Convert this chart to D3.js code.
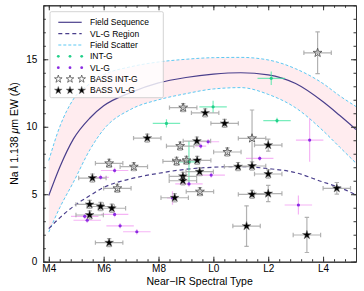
<!DOCTYPE html>
<html>
<head>
<meta charset="utf-8">
<script src="https://cdn.jsdelivr.net/npm/d3@7"></script>
<style>
  body { margin: 0; background: #fff; }
  text { font-family: "Liberation Sans", Arial, sans-serif; }
</style>
</head>
<body>
<div id="chart"></div>
<script>
const WIDTH = 364;
const HEIGHT = 291;
const LEFT = 43.3;
const RIGHT = 356;
const TOP = 5.3;
const BOTTOM = 261.7;

// spectral type as number: M4 = 4, L0 = 10
const xTickValues = [4, 6, 8, 10, 12, 14];
const xTickLabels = ['M4', 'M6', 'M8', 'L0', 'L2', 'L4'];
const yTickValues = [0, 5, 10, 15];

const curveSpT = [4.0, 4.4, 4.9, 5.5, 6.0, 7.0, 8.0, 9.0, 10.0, 11.0, 12.0, 13.0, 14.0, 14.6, 15.2];
const fieldSeq = [4.9, 7.0, 9.1, 10.65, 11.55, 12.55, 13.25, 13.65, 13.9, 14.0, 13.85, 13.2, 11.85, 10.85, 9.8];
const scatterUp = [7.5, 10.0, 12.05, 13.2, 13.85, 14.45, 14.8, 15.0, 15.12, 15.14, 14.95, 14.3, 13.2, 12.3, 11.5];
const scatterLow = [2.2, 4.0, 5.9, 8.3, 9.8, 11.3, 12.0, 12.45, 12.8, 12.9, 12.4, 11.4, 9.7, 8.5, 7.3];
const vlgRegion = [2.45, 3.25, 4.1, 4.9, 5.5, 6.15, 6.55, 6.85, 7.0, 7.05, 6.9, 6.6, 5.9, 5.5, 4.95];

// [SpT, EW, xerr, yerr]
const intG = [
  [8.29, 10.25, 0.5, 0.3],
  [9.99, 11.48, 0.5, 0.45],
  [9.11, 7.4, 0.4, 1.55],
  [12.11, 13.59, 0.5, 0.5],
  [12.32, 10.46, 0.5, 0.2],
];
const vlG = [
  [6.4, 6.76, 0.5, 0.2],
  [5.89, 6.25, 0.3, 0.2],
  [5.31, 3.36, 0.5, 0.2],
  [5.4, 3.07, 0.5, 0.2],
  [6.4, 3.5, 0.5, 0.2],
  [6.6, 2.66, 0.5, 0.2],
  [7.21, 2.22, 0.5, 0.2],
  [8.51, 4.72, 0.2, 0.5],
  [9.81, 8.89, 0.4, 0.2],
  [9.54, 8.57, 0.2, 0.2],
  [11.69, 7.66, 0.5, 0.2],
  [9.92, 6.42, 0.5, 0.2],
  [9.11, 5.76, 0.5, 0.2],
  [13.1, 4.2, 0.5, 0.7],
  [13.51, 9.01, 0.5, 1.6],
];
const bassIntG = [
  [6.2, 7.29, 0.5, 0.3],
  [7.1, 7.04, 0.5, 0.3],
  [6.5, 5.44, 0.5, 0.3],
  [8.9, 11.42, 0.5, 0.3],
  [11.41, 9.14, 0.5, 2.1],
  [8.79, 8.57, 0.5, 0.3],
  [10.51, 8.13, 0.5, 0.3],
  [8.66, 7.44, 0.5, 0.3],
  [9.02, 7.51, 0.5, 0.3],
  [9.51, 5.19, 0.5, 0.3],
  [13.8, 15.48, 0.5, 1.55],
];
const bassVlG = [
  [7.59, 9.16, 0.5, 0.3],
  [5.59, 6.2, 0.5, 0.3],
  [5.49, 4.25, 0.5, 0.3],
  [5.89, 4.09, 0.5, 0.3],
  [6.3, 3.96, 0.5, 0.3],
  [5.49, 3.46, 0.5, 0.3],
  [6.2, 1.41, 0.5, 0.3],
  [8.59, 4.74, 0.5, 0.3],
  [9.7, 11.03, 0.5, 0.3],
  [10.41, 10.25, 0.5, 0.3],
  [12.0, 8.64, 0.5, 0.45],
  [9.4, 8.94, 0.5, 0.3],
  [9.41, 7.51, 0.5, 0.3],
  [10.9, 7.05, 0.5, 0.3],
  [11.41, 7.09, 0.5, 0.3],
  [12.0, 6.5, 0.5, 0.3],
  [9.5, 6.67, 0.5, 0.3],
  [8.89, 6.33, 0.5, 0.3],
  [8.89, 6.0, 0.5, 0.3],
  [11.41, 4.99, 0.5, 0.3],
  [12.0, 5.05, 0.5, 0.6],
  [14.5, 5.44, 0.5, 0.43],
  [11.21, 2.64, 0.5, 1.5],
  [13.41, 1.98, 0.5, 1.3],
];

const legendLabels = ['Field Sequence', 'VL-G Region', 'Field Scatter', 'INT-G', 'VL-G', 'BASS INT-G', 'BASS VL-G'];

const DARK = '#4a3f8c';
const SKY = '#5cc8f2';
const GREEN = '#22d08a';
const PURPLE = '#8a2be2';

const x = d3.scaleLinear().domain([3.8, 15.2]).range([LEFT, RIGHT]);
const y = d3.scaleLinear().domain([0, 19]).range([BOTTOM, TOP]);

const svg = d3.select('#chart').append('svg')
  .attr('width', WIDTH)
  .attr('height', HEIGHT);

svg.append('defs').append('clipPath').attr('id', 'plotClip')
  .append('rect')
  .attr('x', LEFT).attr('y', TOP)
  .attr('width', RIGHT - LEFT).attr('height', BOTTOM - TOP);

const plot = svg.append('g').attr('clip-path', 'url(#plotClip)');

// band + curves
const band = d3.area()
  .x((d, i) => x(curveSpT[i]))
  .y0((d, i) => y(scatterLow[i]))
  .y1((d) => y(d))
  .curve(d3.curveMonotoneX);

plot.append('path')
  .attr('d', band(scatterUp))
  .attr('fill', '#ffc0cb')
  .attr('fill-opacity', 0.3);

const curve = d3.line()
  .x((d, i) => x(curveSpT[i]))
  .y((d) => y(d))
  .curve(d3.curveMonotoneX);

plot.append('path').attr('d', curve(scatterUp))
  .attr('fill', 'none').attr('stroke', SKY).attr('stroke-width', 1).attr('stroke-dasharray', '3,2');
plot.append('path').attr('d', curve(scatterLow))
  .attr('fill', 'none').attr('stroke', SKY).attr('stroke-width', 1).attr('stroke-dasharray', '3,2');
plot.append('path').attr('d', curve(vlgRegion))
  .attr('fill', 'none').attr('stroke', DARK).attr('stroke-width', 1.2).attr('stroke-dasharray', '4,3');
plot.append('path').attr('d', curve(fieldSeq))
  .attr('fill', 'none').attr('stroke', DARK).attr('stroke-width', 1.2);

function errorBars(group, data, color, opacity, cap) {
  data.forEach(([sp, ew, xe, ye]) => {
    const g = group.append('g')
      .attr('stroke', color)
      .attr('stroke-opacity', opacity)
      .attr('stroke-width', 1.2);
    g.append('line')
      .attr('x1', x(sp - xe)).attr('x2', x(sp + xe))
      .attr('y1', y(ew)).attr('y2', y(ew));
    g.append('line')
      .attr('x1', x(sp)).attr('x2', x(sp))
      .attr('y1', y(ew - ye)).attr('y2', y(ew + ye));
    if(cap) {
      [[sp - xe, ew, 'v'], [sp + xe, ew, 'v'], [sp, ew - ye, 'h'], [sp, ew + ye, 'h']].forEach(([cx, cy, dir]) => {
        g.append('line')
          .attr('x1', dir === 'v' ? x(cx) : x(cx) - cap)
          .attr('x2', dir === 'v' ? x(cx) : x(cx) + cap)
          .attr('y1', dir === 'v' ? y(cy) - cap : y(cy))
          .attr('y2', dir === 'v' ? y(cy) + cap : y(cy));
      });
    }
  });
}

errorBars(plot, vlG, '#ee82ee', 0.6, 0);
errorBars(plot, intG, '#3ee6a0', 0.7, 0);
errorBars(plot, bassIntG, '#aaaaaa', 0.9, 2.2);
errorBars(plot, bassVlG, '#aaaaaa', 0.9, 2.2);

plot.selectAll('circle.vlg')
  .data(vlG)
  .enter()
  .append('circle')
  .attr('class', 'vlg')
  .attr('cx', (d) => x(d[0]))
  .attr('cy', (d) => y(d[1]))
  .attr('r', 1.6)
  .attr('fill', PURPLE);

plot.selectAll('circle.intg')
  .data(intG)
  .enter()
  .append('circle')
  .attr('class', 'intg')
  .attr('cx', (d) => x(d[0]))
  .attr('cy', (d) => y(d[1]))
  .attr('r', 1.6)
  .attr('fill', GREEN);

const star = d3.symbol().type(d3.symbolStar).size(24);

plot.selectAll('path.bint')
  .data(bassIntG)
  .enter()
  .append('path')
  .attr('class', 'bint')
  .attr('d', star)
  .attr('transform', (d) => `translate(${x(d[0])},${y(d[1])})`)
  .attr('fill', 'none')
  .attr('stroke', '#555')
  .attr('stroke-width', 0.9);

plot.selectAll('path.bvl')
  .data(bassVlG)
  .enter()
  .append('path')
  .attr('class', 'bvl')
  .attr('d', star)
  .attr('transform', (d) => `translate(${x(d[0])},${y(d[1])})`)
  .attr('fill', '#000')
  .attr('stroke', '#666')
  .attr('stroke-width', 0.5);

// axes, ticks pointing inward on all four sides
const xMinor = d3.range(3.6, 15.3, 0.4).filter((v) => v >= 3.8 && v <= 15.2);
const yMinor = d3.range(0, 20, 1);

function styleAxis(g) {
  g.selectAll('path').attr('stroke', '#333');
  g.selectAll('line').attr('stroke', '#333');
  g.selectAll('text').attr('fill', '#000').style('font-size', '10px');
}

svg.append('g').attr('transform', `translate(0,${BOTTOM})`)
  .call(d3.axisBottom(x).tickValues(xMinor).tickSize(-2.5).tickSizeOuter(0).tickFormat(''))
  .call(styleAxis);
svg.append('g').attr('transform', `translate(0,${TOP})`)
  .call(d3.axisTop(x).tickValues(xMinor).tickSize(-2.5).tickSizeOuter(0).tickFormat(''))
  .call(styleAxis);
svg.append('g').attr('transform', `translate(${LEFT},0)`)
  .call(d3.axisLeft(y).tickValues(yMinor).tickSize(-2.5).tickSizeOuter(0).tickFormat(''))
  .call(styleAxis);
svg.append('g').attr('transform', `translate(${RIGHT},0)`)
  .call(d3.axisRight(y).tickValues(yMinor).tickSize(-2.5).tickSizeOuter(0).tickFormat(''))
  .call(styleAxis);

svg.append('g').attr('transform', `translate(0,${BOTTOM})`)
  .call(d3.axisBottom(x).tickValues(xTickValues).tickSize(-5).tickSizeOuter(0).tickPadding(3)
    .tickFormat((d, i) => xTickLabels[i]))
  .call(styleAxis);
svg.append('g').attr('transform', `translate(0,${TOP})`)
  .call(d3.axisTop(x).tickValues(xTickValues).tickSize(-5).tickSizeOuter(0).tickFormat(''))
  .call(styleAxis);
svg.append('g').attr('transform', `translate(${LEFT},0)`)
  .call(d3.axisLeft(y).tickValues(yTickValues).tickSize(-5).tickSizeOuter(0).tickPadding(6))
  .call(styleAxis);
svg.append('g').attr('transform', `translate(${RIGHT},0)`)
  .call(d3.axisRight(y).tickValues(yTickValues).tickSize(-5).tickSizeOuter(0).tickFormat(''))
  .call(styleAxis);

// axis titles
svg.append('text')
  .attr('x', (LEFT + RIGHT) / 2)
  .attr('y', 284.5)
  .attr('text-anchor', 'middle')
  .style('font-size', '10.5px')
  .text('Near\u2212IR Spectral Type');

const yTitle = svg.append('text')
  .attr('transform', `translate(18,${(TOP + BOTTOM) / 2}) rotate(-90)`)
  .attr('text-anchor', 'middle')
  .style('font-size', '10.5px');
yTitle.append('tspan').text('Na I 1.138 ');
yTitle.append('tspan').style('font-style', 'italic').text('\u03bc');
yTitle.append('tspan').text('m EW (\u00c5)');

// legend
const legend = svg.append('g');
legend.append('rect')
  .attr('x', 50).attr('y', 11.7)
  .attr('width', 113.3).attr('height', 86)
  .attr('rx', 1.5)
  .attr('fill', '#fff').attr('fill-opacity', 0.8)
  .attr('stroke', '#c8c8c8').attr('stroke-width', 0.8);

const rowY = (i) => 22.3 + i * 11.35;
const sampleX = [58.3, 70, 81.7];

legendLabels.forEach((label, i) => {
  const ly = rowY(i);
  if(i < 3) {
    legend.append('line')
      .attr('x1', sampleX[0]).attr('x2', sampleX[2])
      .attr('y1', ly).attr('y2', ly)
      .attr('stroke', i === 2 ? SKY : DARK)
      .attr('stroke-width', i === 2 ? 1 : 1.2)
      .attr('stroke-dasharray', i === 0 ? null : (i === 1 ? '4,3' : '3,2'));
  } else if(i < 5) {
    sampleX.forEach((sx) => {
      legend.append('circle').attr('cx', sx).attr('cy', ly).attr('r', 1.4)
        .attr('fill', i === 3 ? GREEN : PURPLE);
    });
  } else {
    sampleX.forEach((sx) => {
      legend.append('path')
        .attr('d', d3.symbol().type(d3.symbolStar).size(18))
        .attr('transform', `translate(${sx},${ly})`)
        .attr('fill', i === 5 ? 'none' : '#000')
        .attr('stroke', i === 5 ? '#555' : '#666')
        .attr('stroke-width', i === 5 ? 0.8 : 0.5);
    });
  }
  legend.append('text')
    .attr('x', 90).attr('y', ly + 3)
    .style('font-size', '8.5px')
    .text(label);
});
</script>
</body>
</html>
